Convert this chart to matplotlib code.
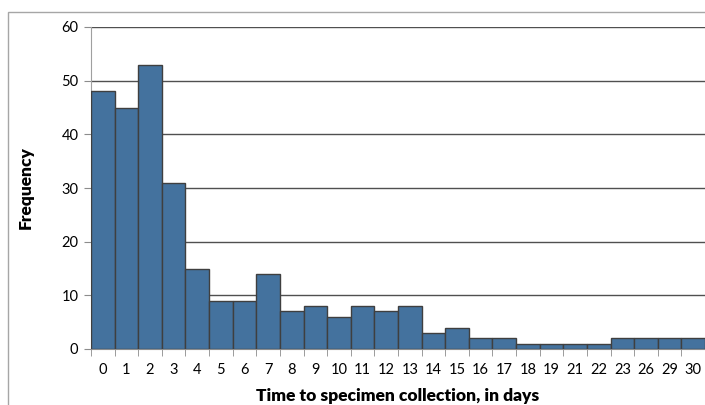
import matplotlib.pyplot as plt
from matplotlib.patches import Rectangle

plt.rcParams['font.family'] = ['Lato', 'DejaVu Sans']

# data
days = ["0", "1", "2", "3", "4", "5", "6", "7", "8", "9", "10", "11", "12", "13",
        "14", "15", "16", "17", "18", "19", "21", "22", "23", "26", "29", "30"]
freq = [48, 45, 53, 31, 15, 9, 9, 14, 7, 8, 6, 8, 7, 8,
        3, 4, 2, 2, 1, 1, 1, 1, 2, 2, 2, 2]

fig = plt.figure(figsize=(7.05, 4.05), dpi=100)
ax = fig.add_axes([91/705, 1 - 349/405, 1 - 91/705, (349 - 27)/405])

# outer frame of the chart area
fig.patches.append(Rectangle((8/705, -0.1), 1.2, 1 - 12/405 + 0.1,
                             transform=fig.transFigure, fill=False,
                             edgecolor="#a6a6a6", lw=1.0, zorder=0))

x = range(len(days))
ax.bar(x, freq, width=1.0, color="#44729e", edgecolor="#3f3f3f", lw=1.0, zorder=3)

ax.set_xlim(-0.5, len(days) - 0.5)
ax.set_ylim(0, 60)
ax.set_yticks(range(0, 61, 10))
ax.yaxis.grid(True, color="#505050", lw=1.0, zorder=0)
ax.set_axisbelow(True)

ax.set_xticks(list(x))
ax.set_xticklabels(days, fontsize=10.5)
ax.tick_params(axis="x", length=0, pad=10)
ax.set_xticks([i - 0.5 for i in range(len(days) + 1)], minor=True)
ax.tick_params(axis="x", which="minor", length=5, color="#8c8c8c", direction="out")
ax.tick_params(axis="y", length=5, color="#8c8c8c", labelsize=10.5, pad=4)

for s in ["top", "right"]:
    ax.spines[s].set_visible(False)
ax.spines["left"].set_color("#a0a0a0")
ax.spines["bottom"].set_color("#8c8c8c")

ax.set_xlabel("Time to specimen collection, in days", fontsize=12.5, fontweight="heavy", labelpad=8)
ax.set_ylabel("Frequency", fontsize=12.5, fontweight="heavy", labelpad=20)

fig.savefig("out.png", dpi=100)
